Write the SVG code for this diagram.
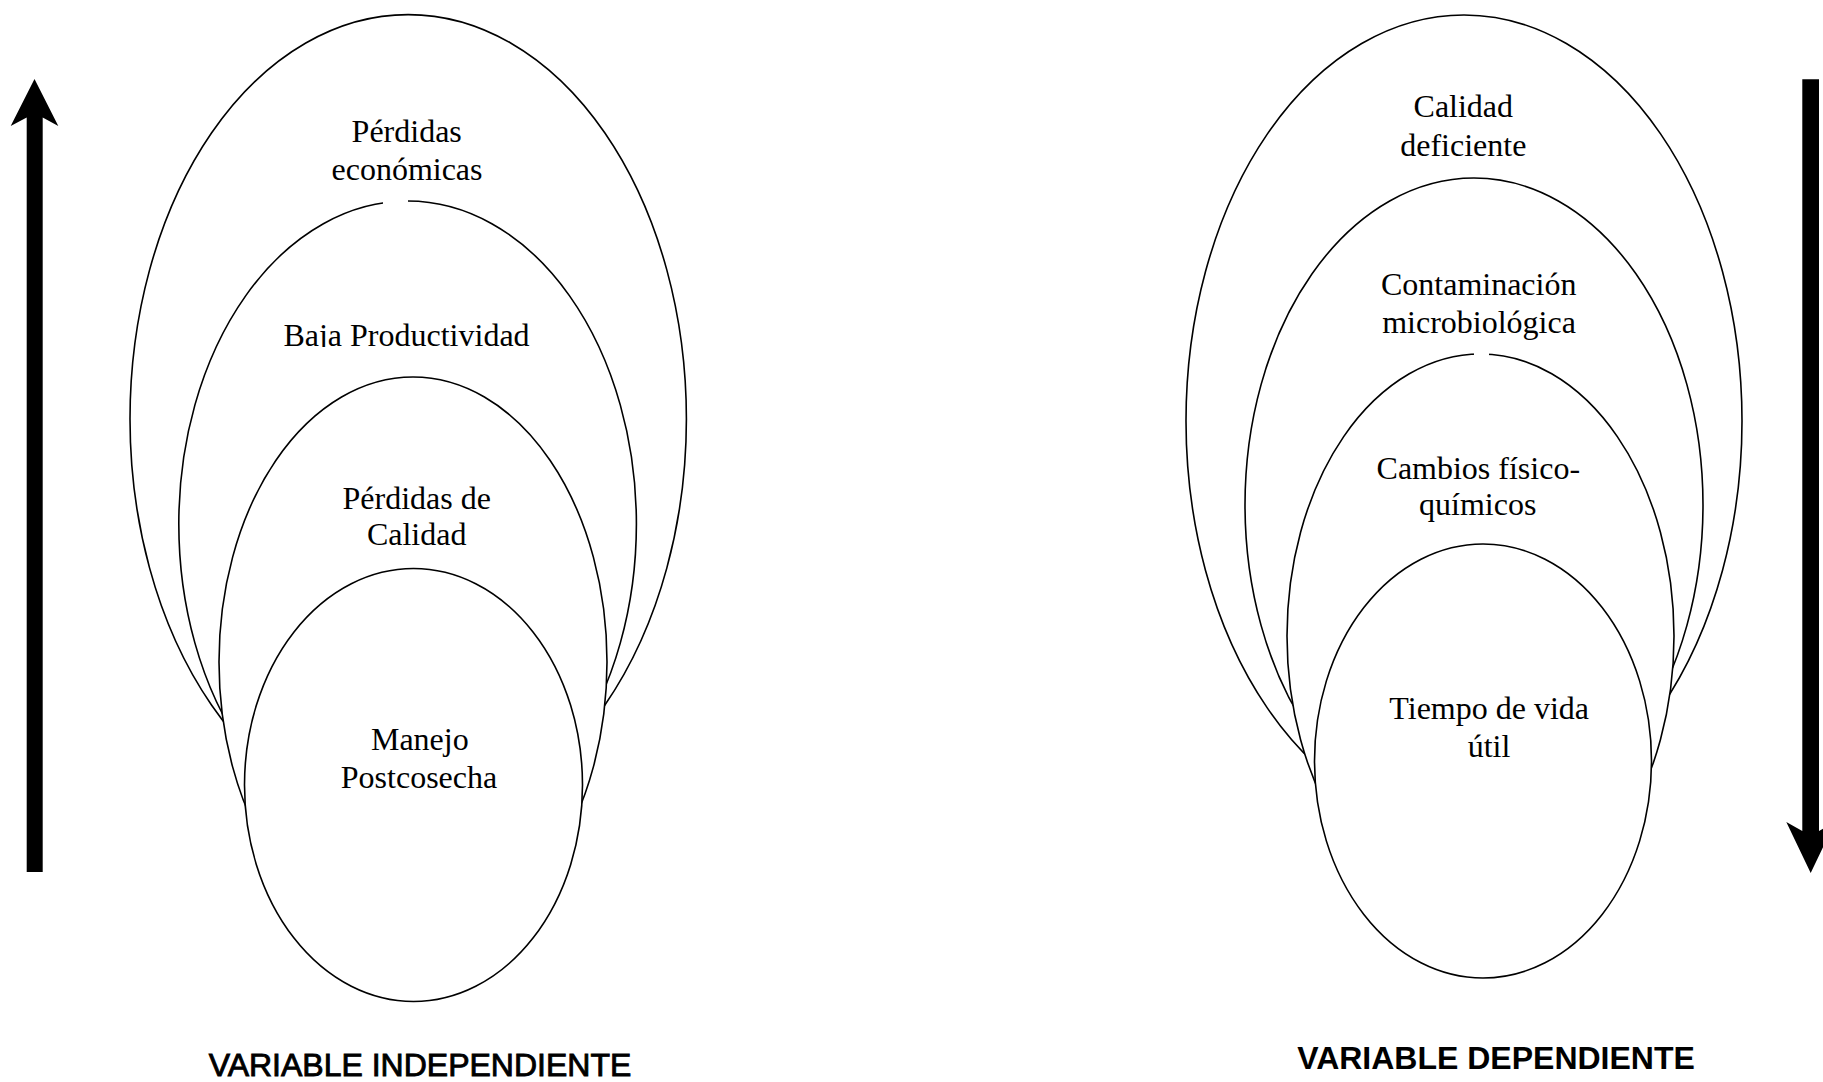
<svg xmlns="http://www.w3.org/2000/svg" width="1823" height="1082" viewBox="0 0 1823 1082">
<style>
.ell{fill:#fff;stroke:#000;stroke-width:1.6}
.lbl{font-family:"Liberation Serif","Times New Roman",serif;font-size:32px;fill:#000;text-anchor:middle}
.head{font-family:"Liberation Sans",Arial,sans-serif;font-size:32px;fill:#000;text-anchor:middle}
.arrow{fill:#000;stroke:none}
.mask{fill:#fff;stroke:none}
</style>
<defs>
<clipPath id="clipBaja"><rect x="200" y="300" width="420" height="47"/></clipPath>
</defs>
<rect x="0" y="0" width="1823" height="1082" fill="#fff"/>

<g id="connectors">
<path class="arrow" d="M34.5,79 L58.3,126 L42.7,117.5 L42.7,872 L26.7,872 L26.7,117.5 L10.7,126 Z"/>
<path class="arrow" d="M1802.3,79.3 L1819,79.3 L1819,831 L1835,822 L1810.7,873 L1786.3,822 L1802.3,831 Z"/>
</g>

<g id="left-variable">
<g id="node-perdidas-economicas">
<ellipse class="ell" cx="408.2" cy="419" rx="278.2" ry="404.4"/>
<text class="lbl" x="406.7" y="142.3">Pérdidas</text>
<text class="lbl" x="407" y="179.6">económicas</text>
</g>
<g id="node-baja-productividad">
<ellipse class="ell" cx="407.6" cy="524" rx="228.8" ry="323"/>
<text class="lbl" x="406.5" y="346" clip-path="url(#clipBaja)">Baja Productividad</text>
</g>
<g id="node-perdidas-calidad">
<ellipse class="ell" cx="413" cy="662" rx="194" ry="285"/>
<text class="lbl" x="416.7" y="508.5">Pérdidas de</text>
<text class="lbl" x="416.7" y="545.4">Calidad</text>
</g>
<g id="node-manejo-postcosecha">
<ellipse class="ell" cx="413.5" cy="785" rx="169" ry="216.5"/>
<text class="lbl" x="419.8" y="750">Manejo</text>
<text class="lbl" x="419" y="787.8">Postcosecha</text>
</g>
<text id="title-independiente" class="head" x="420" y="1076" stroke="#000" stroke-width="0.9">VARIABLE INDEPENDIENTE</text>
</g>

<g id="right-variable">
<g id="node-calidad-deficiente">
<ellipse class="ell" cx="1464" cy="421" rx="278" ry="406"/>
<text class="lbl" x="1463.3" y="117.3">Calidad</text>
<text class="lbl" x="1463.3" y="155.8">deficiente</text>
</g>
<g id="node-contaminacion">
<ellipse class="ell" cx="1474" cy="505" rx="229" ry="327"/>
<text class="lbl" x="1478.7" y="295.4">Contaminación</text>
<text class="lbl" x="1479" y="332.7">microbiológica</text>
</g>
<g id="node-cambios">
<ellipse class="ell" cx="1480.5" cy="636" rx="193.5" ry="282"/>
<text class="lbl" x="1478.3" y="478.8">Cambios físico-</text>
<text class="lbl" x="1477.7" y="515.4">químicos</text>
</g>
<g id="node-tiempo-vida">
<ellipse class="ell" cx="1483" cy="761" rx="168.5" ry="217"/>
<text class="lbl" x="1489.2" y="718.5">Tiempo de vida</text>
<text class="lbl" x="1489" y="757">útil</text>
</g>
<text id="title-dependiente" class="head" x="1496" y="1068.5" font-weight="bold">VARIABLE DEPENDIENTE</text>
</g>

<g id="textbox-masks">
<rect class="mask" x="383" y="197" width="25" height="8"/>
<rect class="mask" x="1474" y="350" width="15" height="8"/>
</g>
</svg>
